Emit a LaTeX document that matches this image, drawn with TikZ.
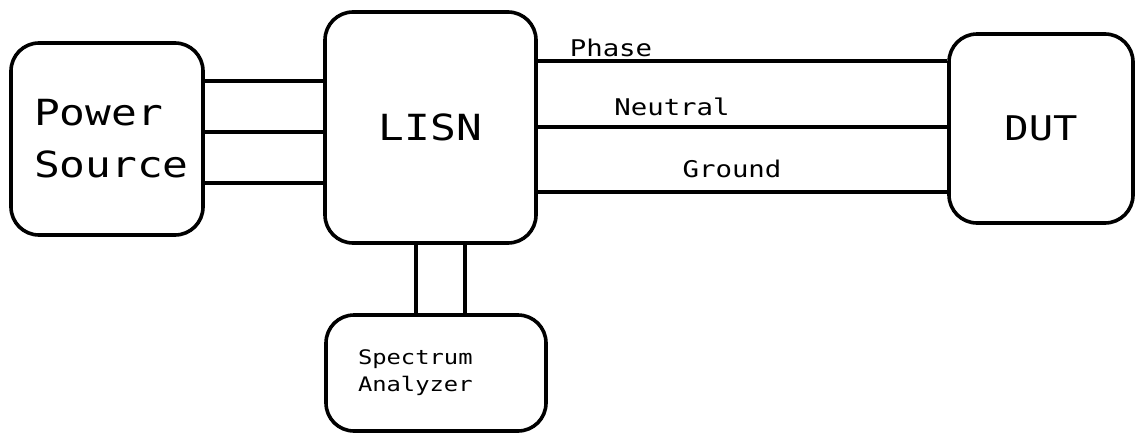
\documentclass[tikz,border=0pt]{standalone}
\usepackage{fontspec}
\newfontfamily\diagfont{DejaVu Sans Mono}[FakeStretch=1.19]
\usetikzlibrary{positioning}

\begin{document}
\begin{tikzpicture}[
        x=1pt, y=-1pt,
        % Style for the rounded blocks
        block/.style={draw, rounded corners=28pt, line width=3.6pt, inner sep=0pt, align=left},
        bigtext/.style={font=\diagfont\fontsize{36}{52}\selectfont},
        smalltext/.style={font=\diagfont\fontsize{20}{27}\selectfont},
        wirelabel/.style={font=\diagfont\fontsize{23}{27}\selectfont, inner sep=0pt},
        wire/.style={line width=3.3pt}
    ]
    \useasboundingbox (0,0) rectangle (1135,434);

    % Blocks
    \node[block, bigtext, text width=146pt, inner xsep=23pt, minimum height=192pt] at (107, 139) (source) {Power\\Source};
    \node[block, bigtext, minimum width=211pt, minimum height=231pt] at (430.5, 127.5) (lisn) {LISN};
    \node[block, bigtext, minimum width=184pt, minimum height=189pt, font=\diagfont\fontsize{34}{40}\selectfont] at (1041, 128.5) (dut) {DUT};
    \node[block, smalltext, text width=156pt, inner xsep=32pt, minimum height=116pt] at (436, 373) (analyzer) {Spectrum\\Analyzer};

    % Wires from the power source to the LISN
    \draw[wire] (source.east |- 0,81) -- (lisn.west |- 0,81);
    \draw[wire] (source.east |- 0,132) -- (lisn.west |- 0,132);
    \draw[wire] (source.east |- 0,183) -- (lisn.west |- 0,183);

    % Wires from the LISN to the DUT
    \draw[wire] (lisn.east |- 0,61) -- (dut.west |- 0,61);
    \draw[wire] (lisn.east |- 0,127) -- (dut.west |- 0,127);
    \draw[wire] (lisn.east |- 0,192) -- (dut.west |- 0,192);

    % Wire labels
    \node[wirelabel] at (611, 48) (phase) {Phase};
    \node[wirelabel] at (672, 107) (neutral) {Neutral};
    \node[wirelabel] at (732, 169) (ground) {Ground};

    % Wires down to the analyzer
    \draw[wire] (lisn.south -| 416,0) -- (analyzer.north -| 416,0);
    \draw[wire] (lisn.south -| 465,0) -- (analyzer.north -| 465,0);
\end{tikzpicture}
\end{document}
